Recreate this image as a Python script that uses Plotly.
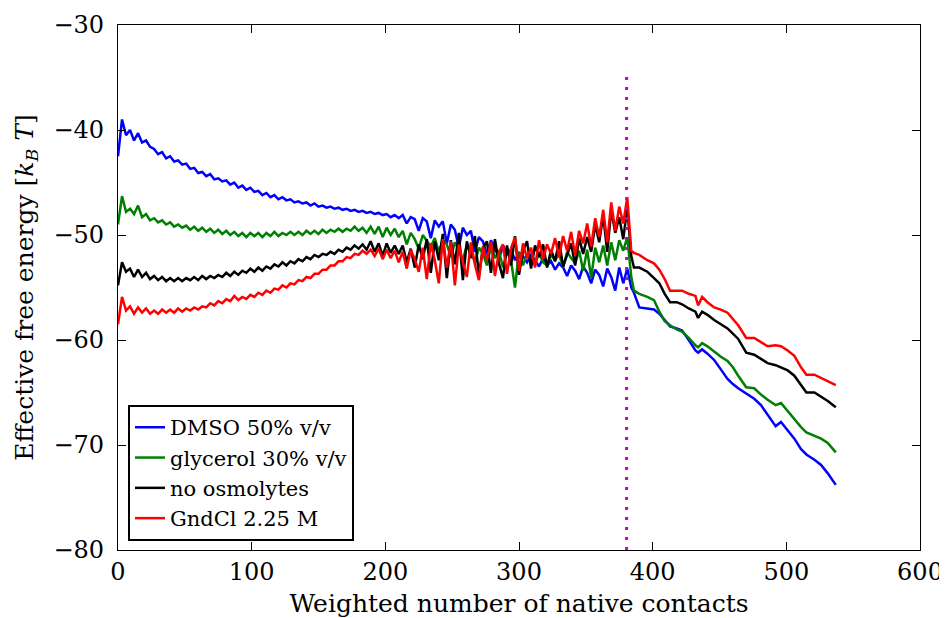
import plotly.graph_objects as go

# ---------------- data ----------------
X_MAIN = [0, 3, 6, 9, 12, 15, 18, 21, 24, 27,
          30, 33, 36, 39, 42, 45, 48, 51, 54, 57,
          60, 63, 66, 69, 72, 75, 78, 81, 84, 87,
          90, 93, 96, 99, 102, 105, 108, 111, 114, 117,
          120, 123, 126, 129, 132, 135, 138, 141, 144, 147,
          150, 153, 156, 159, 162, 165, 168, 171, 174, 177,
          180, 183, 186, 189, 192, 195, 198, 201, 204, 207,
          210, 213, 216, 219, 222, 225, 228, 231, 234, 237,
          240, 243, 246, 249, 252, 255, 258, 261, 264, 267,
          270, 273, 276, 279, 282, 285, 288, 291, 294, 297,
          300, 303, 306, 309, 312, 315, 318, 321, 324, 327,
          330, 333, 336, 339, 342, 345, 348, 351, 354, 357,
          360, 363, 366, 369, 372, 375, 378, 381, 384]

X_TAIL = [386, 390, 396, 401, 405, 409, 413, 418, 422, 427, 432, 434, 437, 441,
          446, 451, 456, 460, 464, 470, 476, 481, 486, 492, 496, 501, 506, 511,
          515, 521, 526, 531, 537]

DMSO_MAIN = [-42.5, -39.0, -40.5, -40.0, -41.0, -40.3, -41.2, -41.0, -41.6, -41.8,
             -42.3, -42.1, -42.7, -42.5, -43.0, -42.9, -43.3, -43.2, -43.7, -43.6,
             -44.1, -44.0, -44.4, -44.2, -44.7, -44.6, -44.9, -44.8, -45.2, -45.0,
             -45.5, -45.3, -45.7, -45.5, -45.9, -45.8, -46.2, -46.0, -46.4, -46.2,
             -46.6, -46.4, -46.7, -46.6, -46.9, -46.8, -47.0, -46.9, -47.2, -47.0,
             -47.3, -47.2, -47.4, -47.3, -47.5, -47.4, -47.6, -47.5, -47.7, -47.6,
             -47.8, -47.7, -47.9, -47.8, -48.0, -47.9, -48.1, -48.0, -48.3, -48.1,
             -48.4, -48.1, -48.9, -48.3, -48.5, -49.6, -48.4, -48.7, -50.3, -48.6,
             -49.2, -48.7, -50.8, -49.0, -49.5, -51.2, -49.3, -50.0, -49.6, -51.6,
             -50.2, -50.6, -51.9, -50.5, -51.2, -52.3, -51.0, -51.8, -51.4, -52.4,
             -51.7, -52.0, -52.6, -51.9, -52.4, -53.0, -52.2, -52.9, -52.5, -53.3,
             -52.7, -53.1, -53.9, -52.9, -53.4, -54.2, -53.0, -53.6, -54.6, -53.3,
             -53.8, -54.9, -53.2, -54.0, -55.3, -53.1, -54.6, -53.2, -55.0]
DMSO_TAIL = [-55.5, -56.9, -57.0, -57.1, -57.5, -58.1, -58.7, -58.9, -59.1, -60.0, -61.0,
             -61.2, -60.9, -61.3, -61.9, -62.8, -63.7, -64.2, -64.6, -65.1, -65.6, -66.2,
             -67.1, -68.2, -67.8, -68.6, -69.4, -70.4, -70.9, -71.4, -71.9, -72.7, -73.8]

GLYC_MAIN = [-49.0, -46.3, -47.8, -47.5, -48.0, -47.2, -48.3, -48.0, -48.6, -48.4,
             -48.8, -48.6, -49.0, -48.8, -49.2, -49.0, -49.3, -49.1, -49.5, -49.2,
             -49.6, -49.3, -49.7, -49.4, -49.8, -49.5, -49.9, -49.6, -50.0, -49.7,
             -50.1, -49.8, -50.2, -49.8, -50.1, -49.8, -50.2, -49.8, -50.1, -49.7,
             -50.1, -49.8, -50.0, -49.7, -50.0, -49.7, -50.0, -49.6, -49.9, -49.6,
             -49.9, -49.5, -49.8, -49.5, -49.7, -49.4, -49.7, -49.4, -49.6, -49.2,
             -49.6, -49.3, -49.8, -49.2, -49.9, -49.2, -50.2, -49.3, -50.0, -49.4,
             -50.2, -49.6, -50.9, -49.8, -50.4, -51.3, -50.0, -50.6, -51.1, -50.3,
             -51.6, -50.5, -50.9, -52.1, -50.7, -51.4, -52.4, -50.9, -51.6, -52.6,
             -51.2, -51.8, -52.9, -51.1, -52.2, -51.5, -53.1, -51.6, -52.4, -55.0,
             -51.6, -52.9, -51.8, -52.3, -52.8, -51.7, -52.6, -52.9, -51.9, -52.4,
             -51.8, -53.1, -51.6, -52.2, -52.7, -51.5, -53.4, -51.4, -54.1, -51.2,
             -52.6, -51.0, -52.9, -50.7, -52.4, -50.5, -51.5, -50.2, -54.0]
GLYC_TAIL = [-55.3, -55.6, -55.9, -56.2, -57.3, -58.2, -58.6, -59.0, -59.2, -59.8, -60.5,
             -60.7, -60.3, -60.6, -61.1, -61.6, -62.0, -62.6, -63.4, -64.5, -64.6, -65.2,
             -65.7, -66.2, -66.0, -66.8, -67.6, -68.3, -68.8, -69.1, -69.4, -69.8, -70.7]

NOOSM_MAIN = [-54.8, -52.6, -53.5, -53.2, -54.0, -53.3, -54.0, -53.6, -54.2, -53.9,
              -54.3, -54.0, -54.4, -54.1, -54.4, -54.1, -54.4, -54.1, -54.3, -54.0,
              -54.3, -53.9, -54.2, -53.9, -54.1, -53.8, -54.0, -53.6, -53.9, -53.5,
              -53.8, -53.4, -53.6, -53.2, -53.5, -53.1, -53.4, -53.0, -53.2, -52.8,
              -53.0, -52.6, -52.9, -52.5, -52.7, -52.3, -52.5, -52.1, -52.3, -51.9,
              -52.1, -51.8, -51.9, -51.6, -51.8, -51.4, -51.6, -51.2, -51.4, -51.0,
              -51.3, -50.9, -51.4, -50.6, -51.6, -50.8, -52.0, -50.8, -51.7, -51.0,
              -51.8, -51.0, -52.6, -51.3, -53.1, -50.9, -52.3, -50.4, -53.6, -50.6,
              -52.4, -49.9, -54.1, -50.5, -52.8, -49.8, -54.3, -50.6, -52.2, -50.1,
              -53.9, -51.2, -50.6, -53.6, -50.4, -52.7, -54.1, -51.0, -52.9, -50.1,
              -53.8, -51.5, -50.6, -53.2, -51.0, -52.1, -50.9, -53.1, -51.4, -52.5,
              -50.6, -53.0, -51.9, -50.8, -52.9, -50.3, -51.8, -50.2, -51.6, -49.0,
              -50.7, -48.1, -51.6, -47.6, -49.8, -48.3, -50.4, -47.4, -52.0]
NOOSM_TAIL = [-53.1, -53.1, -53.5, -54.1, -54.6, -55.6, -56.4, -56.4, -56.6, -57.0, -57.3,
              -57.9, -57.3, -57.6, -58.1, -58.5, -58.9, -59.4, -59.9, -61.2, -61.4, -61.8,
              -62.2, -62.4, -62.6, -62.9, -63.4, -64.3, -65.0, -65.0, -65.4, -65.8, -66.4]

GDN_MAIN = [-58.5, -55.9, -57.2, -56.8, -57.5, -56.9, -57.4, -57.0, -57.5, -57.2,
            -57.5, -57.1, -57.4, -57.1, -57.4, -57.0, -57.3, -57.0, -57.2, -56.9,
            -57.1, -56.8, -56.9, -56.5, -56.7, -56.3, -56.5, -56.1, -56.3, -55.8,
            -56.2, -55.9, -56.1, -55.7, -55.9, -55.5, -55.7, -55.3, -55.5, -55.1,
            -55.2, -54.8, -55.0, -54.6, -54.7, -54.3, -54.4, -54.0, -54.1, -53.7,
            -53.7, -53.3, -53.3, -52.9, -52.9, -52.5, -52.5, -52.1, -52.2, -51.8,
            -51.9, -51.5, -51.8, -51.4, -52.0, -51.3, -52.3, -51.4, -52.2, -51.5,
            -52.6, -51.6, -53.2, -51.4, -52.3, -53.5, -51.2, -54.2, -50.8, -52.4,
            -54.6, -50.4, -53.1, -50.6, -54.8, -50.9, -52.6, -54.0, -50.7, -52.8,
            -54.3, -51.1, -52.4, -50.6, -53.9, -51.6, -50.9, -53.7, -51.3, -50.2,
            -53.4, -50.8, -52.2, -51.2, -53.1, -50.5, -52.3, -50.9, -51.8, -50.3,
            -52.1, -50.1, -51.5, -49.7, -51.9, -49.6, -50.8, -48.9, -51.1, -48.4,
            -50.2, -47.6, -50.7, -46.9, -49.6, -47.3, -48.9, -46.4, -51.5]
GDN_TAIL = [-51.7, -51.9, -52.4, -52.7, -53.3, -54.2, -55.3, -55.3, -55.3, -55.6, -55.8,
            -56.7, -55.9, -56.4, -56.9, -57.1, -57.4, -58.0, -58.6, -59.8, -59.8, -60.2,
            -60.6, -60.5, -60.6, -61.0, -61.5, -62.6, -63.3, -63.3, -63.6, -63.9, -64.3]

SERIES_NAMES = ["DMSO 50% v/v", "glycerol 30% v/v", "no osmolytes", "GndCl 2.25 M"]
SERIES_MAIN = [DMSO_MAIN, GLYC_MAIN, NOOSM_MAIN, GDN_MAIN]
SERIES_TAIL = [DMSO_TAIL, GLYC_TAIL, NOOSM_TAIL, GDN_TAIL]
SERIES_COLORS = ["#0000ff", "#008000", "#000000", "#ff0000"]

VLINE_X = 380.5
VLINE_Y = [-80, -34.5]

X_TICKS = [0, 100, 200, 300, 400, 500, 600]
Y_TICKS = [-80, -70, -60, -50, -40, -30]

# ---------------- figure ----------------
FONT = "DejaVu Serif"
fig = go.Figure()

for name, main, tail, col in zip(SERIES_NAMES, SERIES_MAIN, SERIES_TAIL, SERIES_COLORS):
    fig.add_trace(go.Scatter(
        x=X_MAIN + X_TAIL, y=main + tail, mode="lines", name=name,
        line=dict(color=col, width=2.5)))

fig.add_trace(go.Scatter(
    x=[VLINE_X, VLINE_X], y=VLINE_Y, mode="lines", showlegend=False,
    line=dict(color="#c800c8", width=3, dash="3px,7px")))

axis_common = dict(
    showgrid=False, zeroline=False, showline=True, linecolor="black",
    linewidth=1.2, mirror="ticks", ticks="inside", ticklen=8, tickwidth=1.2,
    tickcolor="black", tickfont=dict(family=FONT, size=24, color="black"),
    automargin=False,
)

fig.update_xaxes(range=[0, 600], tickvals=X_TICKS, **axis_common,
                 title=dict(text="Weighted number of native contacts",
                            font=dict(family=FONT, size=25, color="black"),
                            standoff=9))
fig.update_yaxes(range=[-80, -30], tickvals=Y_TICKS, **axis_common,
                 ticklabelstandoff=8,
                 title=dict(text="Effective free energy [<i>k</i><sub><i>B</i></sub> <i>T</i>]",
                            font=dict(family=FONT, size=25, color="black"),
                            standoff=12))

# the page body adds an 8px offset, so the figure is drawn 8px smaller
fig.update_layout(
    width=939, height=610,
    margin=dict(l=110, r=27, t=17, b=68),
    paper_bgcolor="white", plot_bgcolor="white",
    legend=dict(x=0.0125, y=0.276, xanchor="left", yanchor="top",
                bgcolor="white", bordercolor="black", borderwidth=2,
                font=dict(family=FONT, size=21, color="black"),
                tracegroupgap=0),
    showlegend=True,
)

fig.write_html("out.html")
